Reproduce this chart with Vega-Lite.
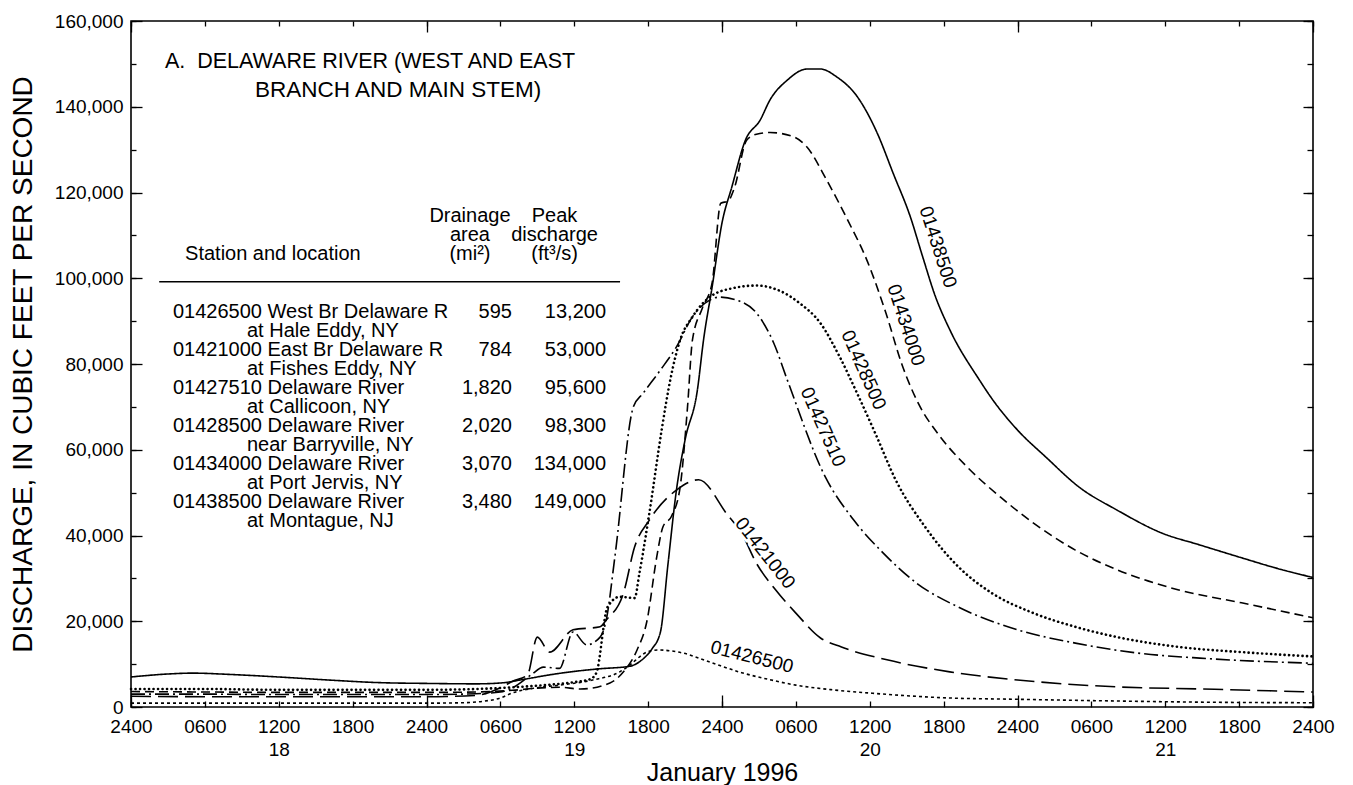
{
  "$schema": "https://vega.github.io/schema/vega-lite/v6.json",
  "width": 1182,
  "height": 686,
  "autosize": "none",
  "padding": {"left": 131, "top": 21, "right": 40, "bottom": 78},
  "background": "white",
  "config": {
    "view": {"stroke": "black", "strokeWidth": 1.6},
    "font": "Liberation Sans",
    "axis": {"labelFont": "Liberation Sans", "labelFontSize": 19, "labelColor": "black", "titleFont": "Liberation Sans", "titleFontWeight": "normal", "titleColor": "black", "tickColor": "black", "tickWidth": 1.3, "domain": false, "grid": false, "labelFlush": false, "labelOverlap": false},
    "text": {"font": "Liberation Sans", "color": "black"}
  },
  "datasets": {
    "flow": [
      {"s":"01438500","h":0,"q":7000},{"s":"01438500","h":3,"q":7700},{"s":"01438500","h":5,"q":7900},{"s":"01438500","h":8,"q":7600},{"s":"01438500","h":12,"q":7000},{"s":"01438500","h":16,"q":6300},{"s":"01438500","h":20,"q":5700},{"s":"01438500","h":24,"q":5500},{"s":"01438500","h":28,"q":5400},{"s":"01438500","h":30,"q":5600},{"s":"01438500","h":32,"q":6500},{"s":"01438500","h":34,"q":7500},{"s":"01438500","h":36,"q":8300},{"s":"01438500","h":38,"q":8900},{"s":"01438500","h":40.5,"q":9500},{"s":"01438500","h":41.5,"q":11000},{"s":"01438500","h":42.3,"q":13500},{"s":"01438500","h":43,"q":17500},{"s":"01438500","h":43.6,"q":33000},{"s":"01438500","h":44.3,"q":50600},{"s":"01438500","h":45,"q":62300},{"s":"01438500","h":46,"q":73900},{"s":"01438500","h":46.5,"q":85600},{"s":"01438500","h":47.2,"q":98000},{"s":"01438500","h":48,"q":112900},{"s":"01438500","h":48.8,"q":121300},{"s":"01438500","h":49.9,"q":132200},{"s":"01438500","h":51.1,"q":136900},{"s":"01438500","h":51.9,"q":141600},{"s":"01438500","h":53.3,"q":146200},{"s":"01438500","h":54.9,"q":148800},{"s":"01438500","h":56,"q":148800},{"s":"01438500","h":57.3,"q":147000},{"s":"01438500","h":59,"q":142300},{"s":"01438500","h":60.6,"q":133900},{"s":"01438500","h":61.9,"q":124500},{"s":"01438500","h":63.3,"q":114300},{"s":"01438500","h":64.3,"q":105000},{"s":"01438500","h":65.3,"q":96000},{"s":"01438500","h":66.5,"q":88000},{"s":"01438500","h":68.9,"q":76300},{"s":"01438500","h":70,"q":71600},{"s":"01438500","h":72,"q":64600},{"s":"01438500","h":74.3,"q":58300},{"s":"01438500","h":77,"q":51300},{"s":"01438500","h":80.1,"q":45900},{"s":"01438500","h":83.7,"q":40600},{"s":"01438500","h":86.8,"q":37800},{"s":"01438500","h":90.2,"q":34800},{"s":"01438500","h":93,"q":32400},{"s":"01438500","h":96,"q":30200},
      {"s":"01434000","h":0,"q":3600},{"s":"01434000","h":6,"q":3500},{"s":"01434000","h":12,"q":3400},{"s":"01434000","h":18,"q":3400},{"s":"01434000","h":24,"q":3400},{"s":"01434000","h":28,"q":3500},{"s":"01434000","h":31,"q":3900},{"s":"01434000","h":33,"q":4400},{"s":"01434000","h":34.8,"q":4600},{"s":"01434000","h":36.5,"q":4200},{"s":"01434000","h":38.9,"q":5600},{"s":"01434000","h":40,"q":8200},{"s":"01434000","h":41.1,"q":13300},{"s":"01434000","h":41.9,"q":20000},{"s":"01434000","h":42.7,"q":35000},{"s":"01434000","h":43.2,"q":42000},{"s":"01434000","h":43.9,"q":44500},{"s":"01434000","h":44.6,"q":51300},{"s":"01434000","h":45.2,"q":70000},{"s":"01434000","h":45.6,"q":85600},{"s":"01434000","h":46.4,"q":93000},{"s":"01434000","h":47.2,"q":99000},{"s":"01434000","h":47.9,"q":117500},{"s":"01434000","h":48.5,"q":118000},{"s":"01434000","h":49,"q":121000},{"s":"01434000","h":50,"q":132200},{"s":"01434000","h":50.8,"q":133600},{"s":"01434000","h":51.9,"q":134000},{"s":"01434000","h":53.8,"q":133000},{"s":"01434000","h":54.9,"q":130600},{"s":"01434000","h":56.5,"q":122900},{"s":"01434000","h":58.2,"q":113600},{"s":"01434000","h":59.8,"q":104000},{"s":"01434000","h":61.3,"q":92000},{"s":"01434000","h":62.6,"q":80000},{"s":"01434000","h":64,"q":70500},{"s":"01434000","h":65.6,"q":63500},{"s":"01434000","h":67.9,"q":56000},{"s":"01434000","h":70.6,"q":49000},{"s":"01434000","h":73.3,"q":42900},{"s":"01434000","h":76.7,"q":36600},{"s":"01434000","h":80.1,"q":32000},{"s":"01434000","h":85.1,"q":27300},{"s":"01434000","h":90.2,"q":24300},{"s":"01434000","h":96,"q":20800},
      {"s":"01428500","h":0,"q":4200},{"s":"01428500","h":6,"q":4200},{"s":"01428500","h":12,"q":4000},{"s":"01428500","h":18,"q":4000},{"s":"01428500","h":24,"q":4000},{"s":"01428500","h":28,"q":4200},{"s":"01428500","h":31,"q":4600},{"s":"01428500","h":34,"q":5200},{"s":"01428500","h":36,"q":5800},{"s":"01428500","h":37.3,"q":6500},{"s":"01428500","h":37.8,"q":8000},{"s":"01428500","h":38.7,"q":23300},{"s":"01428500","h":39.7,"q":25700},{"s":"01428500","h":40.9,"q":25400},{"s":"01428500","h":41.3,"q":31300},{"s":"01428500","h":42.1,"q":45200},{"s":"01428500","h":43.1,"q":64600},{"s":"01428500","h":43.8,"q":76300},{"s":"01428500","h":44.6,"q":85600},{"s":"01428500","h":45.6,"q":91000},{"s":"01428500","h":47,"q":95600},{"s":"01428500","h":48.9,"q":97700},{"s":"01428500","h":50.8,"q":98300},{"s":"01428500","h":52.5,"q":97300},{"s":"01428500","h":54.3,"q":94200},{"s":"01428500","h":56,"q":89500},{"s":"01428500","h":57.5,"q":82000},{"s":"01428500","h":59,"q":73000},{"s":"01428500","h":60.5,"q":63500},{"s":"01428500","h":62.1,"q":53000},{"s":"01428500","h":64.5,"q":42000},{"s":"01428500","h":67.2,"q":32700},{"s":"01428500","h":69.9,"q":26600},{"s":"01428500","h":73.3,"q":21900},{"s":"01428500","h":76.7,"q":18700},{"s":"01428500","h":80.1,"q":16300},{"s":"01428500","h":85.1,"q":14000},{"s":"01428500","h":90.2,"q":12800},{"s":"01428500","h":96,"q":11800},
      {"s":"01427510","h":0,"q":3000},{"s":"01427510","h":6,"q":3000},{"s":"01427510","h":12,"q":2900},{"s":"01427510","h":18,"q":2900},{"s":"01427510","h":24,"q":2900},{"s":"01427510","h":28,"q":3100},{"s":"01427510","h":30,"q":3500},{"s":"01427510","h":31,"q":4500},{"s":"01427510","h":32.5,"q":7500},{"s":"01427510","h":33.5,"q":9300},{"s":"01427510","h":34.8,"q":9000},{"s":"01427510","h":35.9,"q":17500},{"s":"01427510","h":37,"q":14500},{"s":"01427510","h":38.1,"q":16300},{"s":"01427510","h":38.6,"q":20300},{"s":"01427510","h":39.3,"q":35000},{"s":"01427510","h":40.8,"q":70000},{"s":"01427510","h":41.6,"q":73200},{"s":"01427510","h":43,"q":78600},{"s":"01427510","h":44.3,"q":84000},{"s":"01427510","h":45.6,"q":91000},{"s":"01427510","h":47,"q":94900},{"s":"01427510","h":47.8,"q":95600},{"s":"01427510","h":49.2,"q":94900},{"s":"01427510","h":50.8,"q":91900},{"s":"01427510","h":52.2,"q":84900},{"s":"01427510","h":53.3,"q":76300},{"s":"01427510","h":56.4,"q":53600},{"s":"01427510","h":58.7,"q":43600},{"s":"01427510","h":61.1,"q":35900},{"s":"01427510","h":63.8,"q":28900},{"s":"01427510","h":67.2,"q":23300},{"s":"01427510","h":72,"q":18000},{"s":"01427510","h":76.7,"q":14900},{"s":"01427510","h":81.7,"q":12600},{"s":"01427510","h":86.8,"q":11400},{"s":"01427510","h":96,"q":10200},
      {"s":"01421000","h":0,"q":2500},{"s":"01421000","h":6,"q":2400},{"s":"01421000","h":12,"q":2400},{"s":"01421000","h":18,"q":2400},{"s":"01421000","h":24,"q":2400},{"s":"01421000","h":28,"q":2700},{"s":"01421000","h":30,"q":4500},{"s":"01421000","h":31,"q":6000},{"s":"01421000","h":32.2,"q":7500},{"s":"01421000","h":33,"q":16300},{"s":"01421000","h":34,"q":12800},{"s":"01421000","h":35.9,"q":18000},{"s":"01421000","h":38.1,"q":18700},{"s":"01421000","h":38.6,"q":20300},{"s":"01421000","h":40,"q":26600},{"s":"01421000","h":40.9,"q":37300},{"s":"01421000","h":42.1,"q":43600},{"s":"01421000","h":44.3,"q":50600},{"s":"01421000","h":46.1,"q":53000},{"s":"01421000","h":48.4,"q":45000},{"s":"01421000","h":49.6,"q":40500},{"s":"01421000","h":50.8,"q":33500},{"s":"01421000","h":52.3,"q":27500},{"s":"01421000","h":54,"q":21900},{"s":"01421000","h":56,"q":16100},{"s":"01421000","h":57.7,"q":14000},{"s":"01421000","h":61.4,"q":11000},{"s":"01421000","h":66.5,"q":8200},{"s":"01421000","h":72,"q":6300},{"s":"01421000","h":80,"q":4700},{"s":"01421000","h":87,"q":4200},{"s":"01421000","h":96,"q":3500},
      {"s":"01426500","h":0,"q":900},{"s":"01426500","h":6,"q":900},{"s":"01426500","h":12,"q":900},{"s":"01426500","h":18,"q":900},{"s":"01426500","h":24,"q":900},{"s":"01426500","h":27,"q":1000},{"s":"01426500","h":28.5,"q":1300},{"s":"01426500","h":30,"q":2100},{"s":"01426500","h":31,"q":3300},{"s":"01426500","h":33,"q":4500},{"s":"01426500","h":34.8,"q":5100},{"s":"01426500","h":37.5,"q":6300},{"s":"01426500","h":39.7,"q":8200},{"s":"01426500","h":40.3,"q":9300},{"s":"01426500","h":41.9,"q":12800},{"s":"01426500","h":42.8,"q":13300},{"s":"01426500","h":44.8,"q":12600},{"s":"01426500","h":47,"q":10500},{"s":"01426500","h":49.6,"q":8000},{"s":"01426500","h":52,"q":6300},{"s":"01426500","h":54,"q":5100},{"s":"01426500","h":57,"q":4000},{"s":"01426500","h":59.8,"q":3300},{"s":"01426500","h":66.5,"q":2100},{"s":"01426500","h":72,"q":1800},{"s":"01426500","h":80,"q":1400},{"s":"01426500","h":88,"q":1100},{"s":"01426500","h":96,"q":1000}
    ]
  },
  "resolve": {"axis": {"x": "independent", "y": "independent"}},
  "layer": [
    {
      "data": {"name": "flow"},
      "transform": [{"filter": "datum.s != '01428500'"}],
      "mark": {"type": "line", "interpolate": "monotone", "strokeWidth": 1.6, "color": "black", "strokeCap": "butt"},
      "encoding": {
        "x": {"field": "h", "type": "quantitative", "scale": {"domain": [0, 96], "nice": false},
          "axis": {"orient": "bottom", "values": [0,6,12,18,24,30,36,42,48,54,60,66,72,78,84,90,96], "ticks": false, "labelPadding": 10, "labelLineHeight": 23,
            "labelExpr": "datum.value % 24 == 0 ? '2400' : datum.value % 24 == 6 ? '0600' : datum.value % 24 == 18 ? '1800' : ['1200', '' + (18 + floor(datum.value / 24))]",
            "title": "January 1996", "titleFontSize": 25, "titlePadding": 1}},
        "y": {"field": "q", "type": "quantitative", "scale": {"domain": [0, 160000], "nice": false},
          "axis": {"orient": "left", "values": [0,20000,40000,60000,80000,100000,120000,140000,160000], "ticks": false, "labelPadding": 8, "format": ",d",
            "title": "DISCHARGE, IN CUBIC FEET PER SECOND", "titleFontSize": 28, "titlePadding": 17}},
        "strokeDash": {"field": "s", "type": "nominal", "legend": null,
          "scale": {"domain": ["01438500","01434000","01427510","01421000","01426500"], "range": [[1,0],[9,5],[14,4,2,4],[20,7],[3,3]]}}
      }
    },
    {
      "data": {"name": "flow"},
      "transform": [{"filter": "datum.s == '01428500'"}],
      "mark": {"type": "line", "interpolate": "monotone", "strokeWidth": 2.6, "color": "black", "strokeCap": "round", "strokeDash": [0.1, 4.4]},
      "encoding": {
        "x": {"field": "h", "type": "quantitative", "scale": {"domain": [0, 96], "nice": false}, "axis": null},
        "y": {"field": "q", "type": "quantitative", "scale": {"domain": [0, 160000], "nice": false}, "axis": null}
      }
    },
    {
      "data": {"name": "flow"},
      "mark": {"type": "point", "opacity": 0},
      "encoding": {
        "x": {"field": "h", "type": "quantitative", "scale": {"domain": [0, 96], "nice": false},
          "axis": {"orient": "bottom", "values": [0,6,12,18,24,30,36,42,48,54,60,66,72,78,84,90,96], "tickSize": -6, "labels": false, "title": null}},
        "y": {"field": "q", "type": "quantitative", "scale": {"domain": [0, 160000], "nice": false},
          "axis": {"orient": "left", "values": [0,10000,20000,30000,40000,50000,60000,70000,80000,90000,100000,110000,120000,130000,140000,150000,160000], "tickSize": -5, "labels": false, "title": null}}
      }
    },
    {
      "data": {"name": "flow"},
      "mark": {"type": "point", "opacity": 0},
      "encoding": {
        "x": {"field": "h", "type": "quantitative", "scale": {"domain": [0, 96], "nice": false},
          "axis": {"orient": "bottom", "values": [0,24,48,72,96], "tickSize": -12, "labels": false, "title": null}},
        "y": {"field": "q", "type": "quantitative", "scale": {"domain": [0, 160000], "nice": false},
          "axis": {"orient": "left", "values": [0,20000,40000,60000,80000,100000,120000,140000,160000], "tickSize": -11, "labels": false, "title": null}}
      }
    },
    {
      "data": {"name": "flow"},
      "mark": {"type": "point", "opacity": 0},
      "encoding": {
        "x": {"field": "h", "type": "quantitative", "scale": {"domain": [0, 96], "nice": false},
          "axis": {"orient": "top", "values": [0,6,12,18,24,30,36,42,48,54,60,66,72,78,84,90,96], "tickSize": -5, "labels": false, "title": null}},
        "y": {"field": "q", "type": "quantitative", "scale": {"domain": [0, 160000], "nice": false},
          "axis": {"orient": "right", "values": [0,10000,20000,30000,40000,50000,60000,70000,80000,90000,100000,110000,120000,130000,140000,150000,160000], "tickSize": -6, "labels": false, "title": null}}
      }
    },
    {
      "data": {"name": "flow"},
      "mark": {"type": "point", "opacity": 0},
      "encoding": {
        "x": {"field": "h", "type": "quantitative", "scale": {"domain": [0, 96], "nice": false},
          "axis": {"orient": "top", "values": [0,24,48,72,96], "tickSize": -11, "labels": false, "title": null}},
        "y": {"field": "q", "type": "quantitative", "scale": {"domain": [0, 160000], "nice": false},
          "axis": {"orient": "right", "values": [0,20000,40000,60000,80000,100000,120000,140000,160000], "tickSize": -10, "labels": false, "title": null}}
      }
    },
    {
      "data": {"values": [{}]},
      "encoding": {
        "x": {"datum": 2.76, "type": "quantitative", "scale": {"domain": [0, 96], "nice": false}, "axis": null},
        "y": {"datum": 150440, "type": "quantitative", "scale": {"domain": [0, 160000], "nice": false}, "axis": null}
      },
      "mark": {"type": "text", "text": "A.\u00a0 DELAWARE RIVER (WEST AND EAST", "align": "left", "baseline": "middle", "fontSize": 21.5}
    },
    {
      "data": {"values": [{}]},
      "encoding": {
        "x": {"datum": 10.07, "type": "quantitative", "scale": {"domain": [0, 96], "nice": false}, "axis": null},
        "y": {"datum": 143910, "type": "quantitative", "scale": {"domain": [0, 160000], "nice": false}, "axis": null}
      },
      "mark": {"type": "text", "text": "BRANCH AND MAIN STEM)", "align": "left", "baseline": "middle", "fontSize": 22.5}
    },
    {
      "data": {"values": [{}]},
      "encoding": {
        "x": {"datum": 4.39, "type": "quantitative", "scale": {"domain": [0, 96], "nice": false}, "axis": null},
        "y": {"datum": 105660, "type": "quantitative", "scale": {"domain": [0, 160000], "nice": false}, "axis": null}
      },
      "mark": {"type": "text", "text": "Station and location", "align": "left", "baseline": "middle", "fontSize": 20}
    },
    {
      "data": {"values": [{}]},
      "encoding": {
        "x": {"datum": 27.53, "type": "quantitative", "scale": {"domain": [0, 96], "nice": false}, "axis": null},
        "y": {"datum": 114520, "type": "quantitative", "scale": {"domain": [0, 160000], "nice": false}, "axis": null}
      },
      "mark": {"type": "text", "text": ["Drainage", "area", "(mi²)"], "align": "center", "baseline": "middle", "fontSize": 20, "lineHeight": 19}
    },
    {
      "data": {"values": [{}]},
      "encoding": {
        "x": {"datum": 34.4, "type": "quantitative", "scale": {"domain": [0, 96], "nice": false}, "axis": null},
        "y": {"datum": 114520, "type": "quantitative", "scale": {"domain": [0, 160000], "nice": false}, "axis": null}
      },
      "mark": {"type": "text", "text": ["Peak", "discharge", "(ft³/s)"], "align": "center", "baseline": "middle", "fontSize": 20, "lineHeight": 19}
    },
    {
      "data": {"values": [{}]},
      "encoding": {
        "x": {"datum": 2.29, "type": "quantitative", "scale": {"domain": [0, 96], "nice": false}, "axis": null},
        "x2": {"datum": 39.72},
        "y": {"datum": 99200, "type": "quantitative", "scale": {"domain": [0, 160000], "nice": false}, "axis": null}
      },
      "mark": {"type": "rule", "color": "black", "strokeWidth": 1.4}
    },
    {
      "data": {"values": [{}]},
      "encoding": {
        "x": {"datum": 3.41, "type": "quantitative", "scale": {"domain": [0, 96], "nice": false}, "axis": null},
        "y": {"datum": 92130, "type": "quantitative", "scale": {"domain": [0, 160000], "nice": false}, "axis": null}
      },
      "mark": {"type": "text", "align": "left", "baseline": "middle", "fontSize": 20, "lineHeight": 38,
        "text": ["01426500 West Br Delaware R", "01421000 East Br Delaware R", "01427510 Delaware River", "01428500 Delaware River", "01434000 Delaware River", "01438500 Delaware River"]}
    },
    {
      "data": {"values": [{}]},
      "encoding": {
        "x": {"datum": 9.42, "type": "quantitative", "scale": {"domain": [0, 96], "nice": false}, "axis": null},
        "y": {"datum": 87700, "type": "quantitative", "scale": {"domain": [0, 160000], "nice": false}, "axis": null}
      },
      "mark": {"type": "text", "align": "left", "baseline": "middle", "fontSize": 20, "lineHeight": 38,
        "text": ["at Hale Eddy, NY", "at Fishes Eddy, NY", "at Callicoon, NY", "near Barryville, NY", "at Port Jervis, NY", "at Montague, NJ"]}
    },
    {
      "data": {"values": [{}]},
      "encoding": {
        "x": {"datum": 30.94, "type": "quantitative", "scale": {"domain": [0, 96], "nice": false}, "axis": null},
        "y": {"datum": 92130, "type": "quantitative", "scale": {"domain": [0, 160000], "nice": false}, "axis": null}
      },
      "mark": {"type": "text", "align": "right", "baseline": "middle", "fontSize": 20, "lineHeight": 38,
        "text": ["595", "784", "1,820", "2,020", "3,070", "3,480"]}
    },
    {
      "data": {"values": [{}]},
      "encoding": {
        "x": {"datum": 38.58, "type": "quantitative", "scale": {"domain": [0, 96], "nice": false}, "axis": null},
        "y": {"datum": 92130, "type": "quantitative", "scale": {"domain": [0, 160000], "nice": false}, "axis": null}
      },
      "mark": {"type": "text", "align": "right", "baseline": "middle", "fontSize": 20, "lineHeight": 38,
        "text": ["13,200", "53,000", "95,600", "98,300", "134,000", "149,000"]}
    },
    {
      "data": {"values": [{}]},
      "encoding": {
        "x": {"datum": 65.54, "type": "quantitative", "scale": {"domain": [0, 96], "nice": false}, "axis": null},
        "y": {"datum": 107290, "type": "quantitative", "scale": {"domain": [0, 160000], "nice": false}, "axis": null}
      },
      "layer": [
        {"mark": {"type": "text", "text": "01438500", "angle": 72, "align": "center", "baseline": "middle", "fontSize": 19, "fill": "white", "stroke": "white", "strokeWidth": 5}},
        {"mark": {"type": "text", "text": "01438500", "angle": 72, "align": "center", "baseline": "middle", "fontSize": 19, "fill": "black"}}
      ]
    },
    {
      "data": {"values": [{}]},
      "encoding": {
        "x": {"datum": 62.94, "type": "quantitative", "scale": {"domain": [0, 96], "nice": false}, "axis": null},
        "y": {"datum": 89100, "type": "quantitative", "scale": {"domain": [0, 160000], "nice": false}, "axis": null}
      },
      "layer": [
        {"mark": {"type": "text", "text": "01434000", "angle": 72, "align": "center", "baseline": "middle", "fontSize": 19, "fill": "white", "stroke": "white", "strokeWidth": 5}},
        {"mark": {"type": "text", "text": "01434000", "angle": 72, "align": "center", "baseline": "middle", "fontSize": 19, "fill": "black"}}
      ]
    },
    {
      "data": {"values": [{}]},
      "encoding": {
        "x": {"datum": 59.5, "type": "quantitative", "scale": {"domain": [0, 96], "nice": false}, "axis": null},
        "y": {"datum": 78600, "type": "quantitative", "scale": {"domain": [0, 160000], "nice": false}, "axis": null}
      },
      "layer": [
        {"mark": {"type": "text", "text": "01428500", "angle": 66, "align": "center", "baseline": "middle", "fontSize": 19, "fill": "white", "stroke": "white", "strokeWidth": 3}},
        {"mark": {"type": "text", "text": "01428500", "angle": 66, "align": "center", "baseline": "middle", "fontSize": 19, "fill": "black"}}
      ]
    },
    {
      "data": {"values": [{}]},
      "encoding": {
        "x": {"datum": 56.2, "type": "quantitative", "scale": {"domain": [0, 96], "nice": false}, "axis": null},
        "y": {"datum": 65300, "type": "quantitative", "scale": {"domain": [0, 160000], "nice": false}, "axis": null}
      },
      "layer": [
        {"mark": {"type": "text", "text": "01427510", "angle": 66, "align": "center", "baseline": "middle", "fontSize": 19, "fill": "white", "stroke": "white", "strokeWidth": 5}},
        {"mark": {"type": "text", "text": "01427510", "angle": 66, "align": "center", "baseline": "middle", "fontSize": 19, "fill": "black"}}
      ]
    },
    {
      "data": {"values": [{}]},
      "encoding": {
        "x": {"datum": 51.5, "type": "quantitative", "scale": {"domain": [0, 96], "nice": false}, "axis": null},
        "y": {"datum": 35900, "type": "quantitative", "scale": {"domain": [0, 160000], "nice": false}, "axis": null}
      },
      "layer": [
        {"mark": {"type": "text", "text": "01421000", "angle": 52, "align": "center", "baseline": "middle", "fontSize": 19, "fill": "white", "stroke": "white", "strokeWidth": 5}},
        {"mark": {"type": "text", "text": "01421000", "angle": 52, "align": "center", "baseline": "middle", "fontSize": 19, "fill": "black"}}
      ]
    },
    {
      "data": {"values": [{}]},
      "encoding": {
        "x": {"datum": 50.44, "type": "quantitative", "scale": {"domain": [0, 96], "nice": false}, "axis": null},
        "y": {"datum": 11660, "type": "quantitative", "scale": {"domain": [0, 160000], "nice": false}, "axis": null}
      },
      "layer": [
        {"mark": {"type": "text", "text": "01426500", "angle": 14, "align": "center", "baseline": "middle", "fontSize": 19, "fill": "white", "stroke": "white", "strokeWidth": 5}},
        {"mark": {"type": "text", "text": "01426500", "angle": 14, "align": "center", "baseline": "middle", "fontSize": 19, "fill": "black"}}
      ]
    }
  ]
}
